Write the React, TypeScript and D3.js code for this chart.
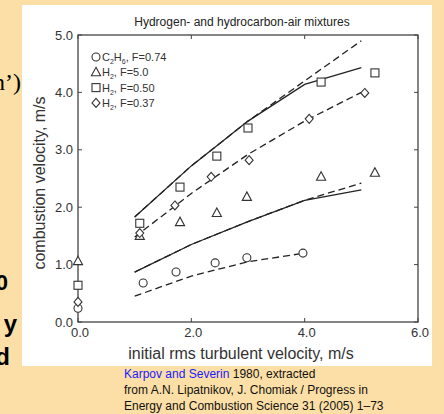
import React from 'react';
import * as d3 from 'd3';

const xTicks = [0, 2, 4, 6];
const yTicks = [0, 1, 2, 3, 4, 5];

// measured points
const c2h6X = [0, 1.15, 1.73, 2.42, 2.98, 3.97];
const c2h6Y = [0.24, 0.68, 0.87, 1.03, 1.12, 1.2];
const h2RichX = [0, 1.09, 1.8, 2.45, 2.98, 4.29, 5.24];
const h2RichY = [1.06, 1.5, 1.74, 1.9, 2.18, 2.53, 2.6];
const h2LeanX = [0, 1.09, 1.8, 2.45, 3.0, 4.29, 5.24];
const h2LeanY = [0.64, 1.72, 2.35, 2.89, 3.38, 4.18, 4.34];
const h2VLeanX = [0, 1.09, 1.71, 2.35, 3.02, 4.08, 5.06];
const h2VLeanY = [0.35, 1.55, 2.03, 2.53, 2.82, 3.54, 3.99];

// model curves
const curveX = [1, 2, 3, 4, 5];
const upperSolidY = [1.83, 2.72, 3.5, 4.14, 4.43];
const upperDashX = [1, 2, 3, 5];
const upperDashY = [1.83, 2.72, 3.5, 4.9];
const midDashY = [1.48, 2.24, 2.92, 3.5, 4.0];
const lowerSolidY = [0.87, 1.35, 1.75, 2.12, 2.3];
const lowerDashY = [0.87, 1.35, 1.75, 2.12, 2.42];
const c2h6DashX = [1, 2, 3, 4];
const c2h6DashY = [0.45, 0.8, 1.05, 1.2];

const FONT = "'Liberation Sans', Arial, sans-serif";
const INK = '#333';

export default function App() {
  const x = d3.scaleLinear().domain([0, 6]).range([78, 418]);
  const y = d3.scaleLinear().domain([0, 5]).range([322, 35]);
  const line = d3.line<[number, number]>().x(d => x(d[0])).y(d => y(d[1]));
  const zip = (xs: number[], ys: number[]) => xs.map((v, i) => [v, ys[i]] as [number, number]);

  const circle = (cx: number, cy: number, k: string) => (
    <circle key={k} cx={cx} cy={cy} r={4} fill="white" stroke={INK} strokeWidth={1.1} />
  );
  const square = (cx: number, cy: number, k: string) => (
    <rect key={k} x={cx - 4} y={cy - 4} width={8} height={8} fill="white" stroke={INK} strokeWidth={1.1} />
  );
  const tri = (cx: number, cy: number, k: string) => (
    <path key={k} d={`M${cx},${cy - 5}L${cx + 4.6},${cy + 3.5}L${cx - 4.6},${cy + 3.5}Z`} fill="white" stroke={INK} strokeWidth={1.1} />
  );
  const diamond = (cx: number, cy: number, k: string) => (
    <path key={k} d={`M${cx},${cy - 4.5}L${cx + 4},${cy}L${cx},${cy + 4.5}L${cx - 4},${cy}Z`} fill="white" stroke={INK} strokeWidth={1.1} />
  );

  const legendRows = [
    { sym: circle, parts: [['C', ''], ['2', 's'], ['H', ''], ['6', 's'], [', F=0.74', '']] },
    { sym: tri, parts: [['H', ''], ['2', 's'], [', F=5.0', '']] },
    { sym: square, parts: [['H', ''], ['2', 's'], [', F=0.50', '']] },
    { sym: diamond, parts: [['H', ''], ['2', 's'], [', F=0.37', '']] },
  ];

  return (
    <svg width={444} height={414} style={{ position: 'absolute', left: 0, top: 0 }} fontFamily={FONT}>
      <rect x={0} y={0} width={444} height={414} fill="#FCDFA6" />
      {/* cut-off slide text behind panel */}
      <text x={21} y={90} textAnchor="end" fontFamily="'Liberation Serif', serif" fontSize={24}>n’)</text>
      <text x={8} y={290} textAnchor="end" fontSize={22} fontWeight="bold">0</text>
      <text x={17} y={332} textAnchor="end" fontSize={24} fontWeight="bold">y</text>
      <text x={10} y={365} textAnchor="end" fontSize={24} fontWeight="bold">d</text>
      <rect x={22} y={5} width={410} height={361} fill="white" />

      <text x={242} y={26} textAnchor="middle" fontSize={12} fill="#222">Hydrogen- and hydrocarbon-air mixtures</text>

      {/* frame */}
      <rect x={78} y={35} width={340} height={287} fill="none" stroke="#444" strokeWidth={1.3} />
      {xTicks.map(t => (
        <g key={'xt' + t}>
          <line x1={x(t)} x2={x(t)} y1={322} y2={318} stroke="#444" />
          <line x1={x(t)} x2={x(t)} y1={35} y2={39} stroke="#444" />
          <text x={x(t) + 2} y={337} textAnchor="middle" fontSize={13} fill={INK}>{t.toFixed(1)}</text>
        </g>
      ))}
      {yTicks.map(t => (
        <g key={'yt' + t}>
          <line x1={78} x2={82} y1={y(t)} y2={y(t)} stroke="#444" />
          <line x1={418} x2={414} y1={y(t)} y2={y(t)} stroke="#444" />
          <text x={73} y={y(t) + 4.5} textAnchor="end" fontSize={13} fill={INK}>{t.toFixed(1)}</text>
        </g>
      ))}
      <text x={241} y={359} textAnchor="middle" fontSize={16} fill={INK}>initial rms turbulent velocity, m/s</text>
      <text transform="translate(45,183) rotate(-90)" textAnchor="middle" fontSize={16} fill={INK}>combustion velocity, m/s</text>

      {/* curves */}
      <g fill="none" stroke="#222" strokeWidth={1.3}>
        <path d={line(zip(curveX, upperSolidY)) || ''} />
        <path d={line(zip(upperDashX, upperDashY)) || ''} strokeDasharray="7,4" />
        <path d={line(zip(curveX, midDashY)) || ''} strokeDasharray="7,4" />
        <path d={line(zip(curveX, lowerSolidY)) || ''} />
        <path d={line(zip(curveX, lowerDashY)) || ''} strokeDasharray="7,4" />
        <path d={line(zip(c2h6DashX, c2h6DashY)) || ''} strokeDasharray="7,4" />
      </g>

      {/* markers */}
      {c2h6X.map((v, i) => circle(x(v), y(c2h6Y[i]), 'c' + i))}
      {h2RichX.map((v, i) => tri(x(v), y(h2RichY[i]), 't' + i))}
      {h2LeanX.map((v, i) => square(x(v), y(h2LeanY[i]), 's' + i))}
      {h2VLeanX.map((v, i) => diamond(x(v), y(h2VLeanY[i]), 'd' + i))}

      {/* legend */}
      {legendRows.map((r, i) => (
        <g key={'lg' + i}>
          {r.sym(96, 57 + i * 15.3, 'ls' + i)}
          <text x={102} y={61 + i * 15.3} fontSize={11} fill={INK}>
            {r.parts.map((p, j) =>
              p[1] === 's'
                ? <tspan key={j} fontSize={7} dy={3}>{p[0]}</tspan>
                : <tspan key={j} dy={j > 0 && r.parts[j - 1][1] === 's' ? -3 : 0}>{p[0]}</tspan>
            )}
          </text>
        </g>
      ))}

      {/* caption */}
      <text x={124} y={378} fontSize={12}>
        <tspan fill="#1a1aff">Karpov and Severin</tspan>
        <tspan fill="#111"> 1980, extracted</tspan>
      </text>
      <text x={124} y={394} fontSize={12} fill="#111">from A.N. Lipatnikov, J. Chomiak / Progress in</text>
      <text x={124} y={410} fontSize={12} fill="#111">Energy and Combustion Science 31 (2005) 1–73</text>
    </svg>
  );
}
